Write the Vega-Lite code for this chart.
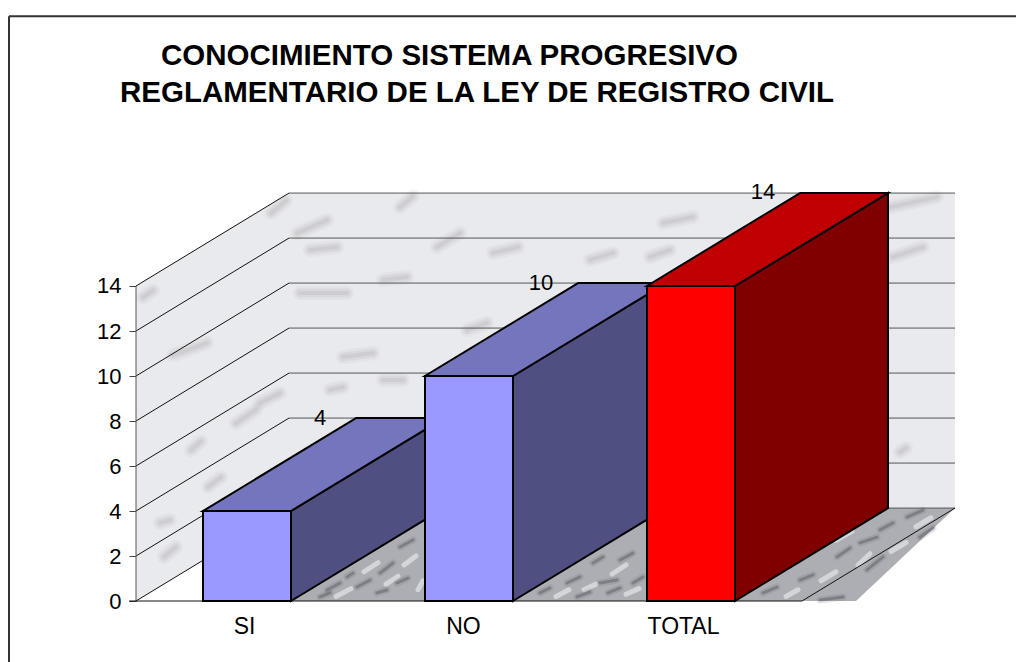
{"$schema":"https://vega.github.io/schema/vega-lite/v6.json","width":1016,"height":662,"padding":0,"autosize":{"type":"none"},"background":"white","config":{"view":{"stroke":null},"font":"Liberation Sans"},
"resolve":{"scale":{"fill":"independent","color":"independent"}},
"datasets":{
"categorias":[{"categoria":"SI","valor":4,"x":67,"x2":155,"lx":184,"ly":8.13},{"categoria":"NO","valor":10,"x":289,"x2":377,"lx":405,"ly":14.13},{"categoria":"TOTAL","valor":14,"x":511,"x2":599,"lx":627,"ly":18.17}],
"laterales":[{"categoria":"SI","x":155,"y":0,"y2":4},{"categoria":"SI","x":308,"y":4.13,"y2":8.13},{"categoria":"NO","x":377,"y":0,"y2":10},{"categoria":"NO","x":530,"y":4.13,"y2":14.13},{"categoria":"TOTAL","x":599,"y":0,"y2":14},{"categoria":"TOTAL","x":752,"y":4.13,"y2":18.13}],
"superiores":[{"categoria":"SI","y":4,"x":67,"x2":155},{"categoria":"SI","y":8.13,"x":220,"x2":308},{"categoria":"NO","y":10,"x":289,"x2":377},{"categoria":"NO","y":14.13,"x":442,"x2":530},{"categoria":"TOTAL","y":14,"x":511,"x2":599},{"categoria":"TOTAL","y":18.13,"x":664,"x2":752}],
"rejilla":[{"y":4.13},{"y":6.13},{"y":8.13},{"y":10.13},{"y":12.13},{"y":14.13},{"y":16.13},{"y":18.13}],
"diagonales":[{"x":0,"y":0,"x2":153,"y2":4.13},{"x":0,"y":2,"x2":153,"y2":6.13},{"x":0,"y":4,"x2":153,"y2":8.13},{"x":0,"y":6,"x2":153,"y2":10.13},{"x":0,"y":8,"x2":153,"y2":12.13},{"x":0,"y":10,"x2":153,"y2":14.13},{"x":0,"y":12,"x2":153,"y2":16.13},{"x":0,"y":14,"x2":153,"y2":18.13},{"x":666,"y":0,"x2":819,"y2":4.13}],
"vetasMuro":[{"x":264,"y":17.5,"x2":277,"y2":18.0},{"x":161,"y":16.35,"x2":191,"y2":16.93},{"x":174,"y":15.6,"x2":201,"y2":15.73},{"x":301,"y":15.73,"x2":324,"y2":16.35},{"x":357,"y":15.47,"x2":382,"y2":15.73},{"x":527,"y":16.8,"x2":557,"y2":17.07},{"x":454,"y":15.16,"x2":477,"y2":15.47},{"x":514,"y":15.29,"x2":534,"y2":15.6},{"x":164,"y":13.69,"x2":211,"y2":13.69},{"x":247,"y":14.27,"x2":271,"y2":14.4},{"x":207,"y":10.84,"x2":237,"y2":11.02},{"x":247,"y":9.82,"x2":267,"y2":9.82},{"x":194,"y":9.38,"x2":207,"y2":9.51},{"x":331,"y":12.04,"x2":351,"y2":12.36},{"x":757,"y":15.29,"x2":787,"y2":15.73},{"x":754,"y":17.5,"x2":801,"y2":17.96},{"x":764,"y":6.62,"x2":770,"y2":6.8},{"x":24,"y":3.47,"x2":34,"y2":3.6},{"x":55,"y":6.7,"x2":65,"y2":7.1},{"x":28,"y":1.96,"x2":40,"y2":2.4},{"x":72,"y":5.07,"x2":85,"y2":5.5},{"x":100,"y":7.9,"x2":120,"y2":8.5},{"x":135,"y":17.24,"x2":150,"y2":17.8},{"x":37,"y":10.93,"x2":71,"y2":11.47},{"x":7,"y":13.5,"x2":17,"y2":13.8},{"x":124,"y":8.8,"x2":144,"y2":9.24}],
"vetasSuelo":[{"x":191,"y":0.49,"x2":204,"y2":0.8},{"x":221,"y":0.62,"x2":234,"y2":0.93},{"x":244,"y":1.24,"x2":257,"y2":1.69},{"x":261,"y":0.8,"x2":272,"y2":1.02},{"x":264,"y":2.4,"x2":277,"y2":2.71},{"x":211,"y":1.07,"x2":217,"y2":1.24},{"x":184,"y":0.18,"x2":194,"y2":0.36},{"x":241,"y":0.36,"x2":251,"y2":0.49},{"x":404,"y":0.36,"x2":414,"y2":0.58},{"x":431,"y":0.8,"x2":444,"y2":1.07},{"x":464,"y":0.8,"x2":481,"y2":0.93},{"x":472,"y":0.36,"x2":484,"y2":0.58},{"x":484,"y":1.82,"x2":497,"y2":2.13},{"x":457,"y":1.69,"x2":467,"y2":1.96},{"x":497,"y":0.8,"x2":507,"y2":1.07},{"x":441,"y":0.18,"x2":454,"y2":0.4},{"x":664,"y":0.93,"x2":677,"y2":1.16},{"x":701,"y":1.96,"x2":714,"y2":2.36},{"x":627,"y":0.36,"x2":641,"y2":0.62},{"x":744,"y":3.16,"x2":757,"y2":3.47},{"x":771,"y":3.73,"x2":787,"y2":4.04},{"x":724,"y":2.58,"x2":741,"y2":2.84},{"x":684,"y":0.04,"x2":707,"y2":0.18},{"x":731,"y":1.38,"x2":747,"y2":1.96},{"x":784,"y":2.84,"x2":797,"y2":3.24}],
"vetasClaras":[{"x":200,"y":0.2,"x2":215,"y2":0.55},{"x":228,"y":1.3,"x2":242,"y2":1.7},{"x":250,"y":0.75,"x2":262,"y2":1.1},{"x":268,"y":1.6,"x2":280,"y2":2.0},{"x":282,"y":0.5,"x2":287,"y2":0.9},{"x":420,"y":0.2,"x2":433,"y2":0.5},{"x":448,"y":0.5,"x2":460,"y2":0.75},{"x":476,"y":1.2,"x2":490,"y2":1.6},{"x":490,"y":0.3,"x2":503,"y2":0.55},{"x":650,"y":0.2,"x2":662,"y2":0.5},{"x":685,"y":0.9,"x2":700,"y2":1.3},{"x":700,"y":2.7,"x2":716,"y2":3.1},{"x":722,"y":1.6,"x2":734,"y2":2.1},{"x":755,"y":2.2,"x2":770,"y2":2.6},{"x":780,"y":3.3,"x2":795,"y2":3.7}]
},
"layer":[
{"data":{"values":[{"x":0,"y":0}]},"mark":{"type":"point","opacity":0},
"encoding":{"x":{"field":"x","type":"quantitative","title":null,"scale":{"domain":[-136,880],"nice":false,"zero":false},"axis":{"orient":"bottom","offset":-61,"values":[108,327,547],"labelExpr":"datum.value==108?'SI':datum.value==327?'NO':'TOTAL'","title":null,"domain":false,"ticks":false,"grid":false,"labelFontSize":23,"labelColor":"#000","labelPadding":14,"labelFont":"Liberation Sans"}},
"y":{"field":"y","type":"quantitative","title":null,"scale":{"domain":[-2.711,26.711],"nice":false,"zero":false},"axis":{"orient":"left","offset":-136,"values":[0,2,4,6,8,10,12,14],"title":null,"domain":false,"grid":false,"tickSize":7,"tickColor":"#444","labelFontSize":22,"labelColor":"#000","labelPadding":8,"labelFont":"Liberation Sans"}}}},
{"data":{"values":[{"x":0,"y":0,"y2":14},{"x":153,"y":4.13,"y2":18.13}]},"mark":{"type":"area","color":"#e9eaed"},"encoding":{"x":{"field":"x","type":"quantitative","title":null},"y":{"field":"y","type":"quantitative","title":null},"y2":{"field":"y2"}}},
{"data":{"values":[{"x":153,"x2":819,"y":4.13,"y2":18.13}]},"mark":{"type":"rect","color":"#e9eaed"},"encoding":{"x":{"field":"x","type":"quantitative","title":null},"x2":{"field":"x2"},"y":{"field":"y","type":"quantitative","title":null},"y2":{"field":"y2"}}},
{"data":{"name":"vetasMuro"},"mark":{"type":"rule","color":"#8a8b92","opacity":0.07,"strokeWidth":14,"strokeCap":"round"},"encoding":{"x":{"field":"x","type":"quantitative","title":null},"x2":{"field":"x2"},"y":{"field":"y","type":"quantitative","title":null},"y2":{"field":"y2"}}},
{"data":{"name":"vetasMuro"},"mark":{"type":"rule","color":"#8a8b92","opacity":0.1,"strokeWidth":9,"strokeCap":"round"},"encoding":{"x":{"field":"x","type":"quantitative","title":null},"x2":{"field":"x2"},"y":{"field":"y","type":"quantitative","title":null},"y2":{"field":"y2"}}},
{"data":{"name":"vetasMuro"},"mark":{"type":"rule","color":"#8a8b92","opacity":0.15,"strokeWidth":4,"strokeCap":"round"},"encoding":{"x":{"field":"x","type":"quantitative","title":null},"x2":{"field":"x2"},"y":{"field":"y","type":"quantitative","title":null},"y2":{"field":"y2"}}},
{"data":{"values":[{"y":0,"x":154,"x2":720},{"y":4.13,"x":307,"x2":819}]},"mark":{"type":"area","orient":"horizontal","color":"#adaeb3"},"encoding":{"y":{"field":"y","type":"quantitative","title":null},"x":{"field":"x","type":"quantitative","title":null},"x2":{"field":"x2"}}},
{"data":{"name":"vetasClaras"},"mark":{"type":"rule","color":"#eeeef2","opacity":0.6,"strokeWidth":5,"strokeCap":"round"},"encoding":{"x":{"field":"x","type":"quantitative","title":null},"x2":{"field":"x2"},"y":{"field":"y","type":"quantitative","title":null},"y2":{"field":"y2"}}},
{"data":{"name":"vetasSuelo"},"mark":{"type":"rule","color":"#55565c","opacity":0.15,"strokeWidth":7,"strokeCap":"round"},"encoding":{"x":{"field":"x","type":"quantitative","title":null},"x2":{"field":"x2"},"y":{"field":"y","type":"quantitative","title":null},"y2":{"field":"y2"}}},
{"data":{"name":"vetasSuelo"},"mark":{"type":"rule","color":"#55565c","opacity":0.45,"strokeWidth":3,"strokeCap":"round"},"encoding":{"x":{"field":"x","type":"quantitative","title":null},"x2":{"field":"x2"},"y":{"field":"y","type":"quantitative","title":null},"y2":{"field":"y2"}}},
{"data":{"name":"rejilla"},"mark":{"type":"rule","color":"#555","strokeWidth":1},"encoding":{"y":{"field":"y","type":"quantitative","title":null},"x":{"datum":153,"type":"quantitative","title":null},"x2":{"datum":819}}},
{"data":{"name":"diagonales"},"mark":{"type":"rule","color":"#111","strokeWidth":1},"encoding":{"x":{"field":"x","type":"quantitative","title":null},"x2":{"field":"x2"},"y":{"field":"y","type":"quantitative","title":null},"y2":{"field":"y2"}}},
{"data":{"values":[{"x":0,"y":0,"y2":14}]},"mark":{"type":"rule","color":"#555","strokeWidth":1},"encoding":{"x":{"field":"x","type":"quantitative","title":null},"y":{"field":"y","type":"quantitative","title":null},"y2":{"field":"y2"}}},
{"data":{"values":[{"x":-7,"x2":666,"y":0}]},"mark":{"type":"rule","color":"#111","strokeWidth":1},"encoding":{"x":{"field":"x","type":"quantitative","title":null},"x2":{"field":"x2"},"y":{"field":"y","type":"quantitative","title":null}}},
{"data":{"name":"laterales"},"mark":{"type":"area","stroke":"#000","strokeWidth":2},"encoding":{"x":{"field":"x","type":"quantitative","title":null},"y":{"field":"y","type":"quantitative","title":null},"y2":{"field":"y2"},"detail":{"field":"categoria"},"fill":{"field":"categoria","type":"nominal","legend":null,"scale":{"domain":["SI","NO","TOTAL"],"range":["#4f4f82","#4f4f82","#800000"]}}}},
{"data":{"name":"superiores"},"mark":{"type":"area","orient":"horizontal","stroke":"#000","strokeWidth":2},"encoding":{"y":{"field":"y","type":"quantitative","title":null},"x":{"field":"x","type":"quantitative","title":null},"x2":{"field":"x2"},"detail":{"field":"categoria"},"color":{"field":"categoria","type":"nominal","legend":null,"scale":{"domain":["SI","NO","TOTAL"],"range":["#7575bd","#7575bd","#c00000"]}}}},
{"data":{"name":"categorias"},"mark":{"type":"rect","stroke":"#000","strokeWidth":2},"encoding":{"x":{"field":"x","type":"quantitative","title":null},"x2":{"field":"x2"},"y":{"field":"valor","type":"quantitative","title":null},"y2":{"datum":0},"fill":{"field":"categoria","type":"nominal","legend":null,"scale":{"domain":["SI","NO","TOTAL"],"range":["#9999ff","#9999ff","#ff0000"]}}}},
{"data":{"name":"categorias"},"mark":{"type":"text","font":"Liberation Sans","fontSize":22,"color":"#000","baseline":"middle","align":"center"},"encoding":{"x":{"field":"lx","type":"quantitative","title":null},"y":{"field":"ly","type":"quantitative","title":null},"text":{"field":"valor","type":"quantitative"}}},
{"data":{"values":[{"x":25,"y":23.82,"t":"CONOCIMIENTO SISTEMA PROGRESIVO"},{"x":-16,"y":22.18,"t":"REGLAMENTARIO DE LA LEY DE REGISTRO CIVIL"}]},"mark":{"type":"text","font":"Liberation Sans","fontWeight":"bold","fontSize":29.5,"color":"#000","baseline":"alphabetic","align":"left"},"encoding":{"x":{"field":"x","type":"quantitative","title":null},"y":{"field":"y","type":"quantitative","title":null},"text":{"field":"t"}}},
{"data":{"values":[{"x":-127,"y":-2.711,"y2":25.99}]},"mark":{"type":"rule","color":"#333","strokeWidth":2},"encoding":{"x":{"field":"x","type":"quantitative","title":null},"y":{"field":"y","type":"quantitative","title":null},"y2":{"field":"y2"}}},
{"data":{"values":[{"x":-127,"x2":880,"y":25.99}]},"mark":{"type":"rule","color":"#333","strokeWidth":2},"encoding":{"x":{"field":"x","type":"quantitative","title":null},"x2":{"field":"x2"},"y":{"field":"y","type":"quantitative","title":null}}}
]}
